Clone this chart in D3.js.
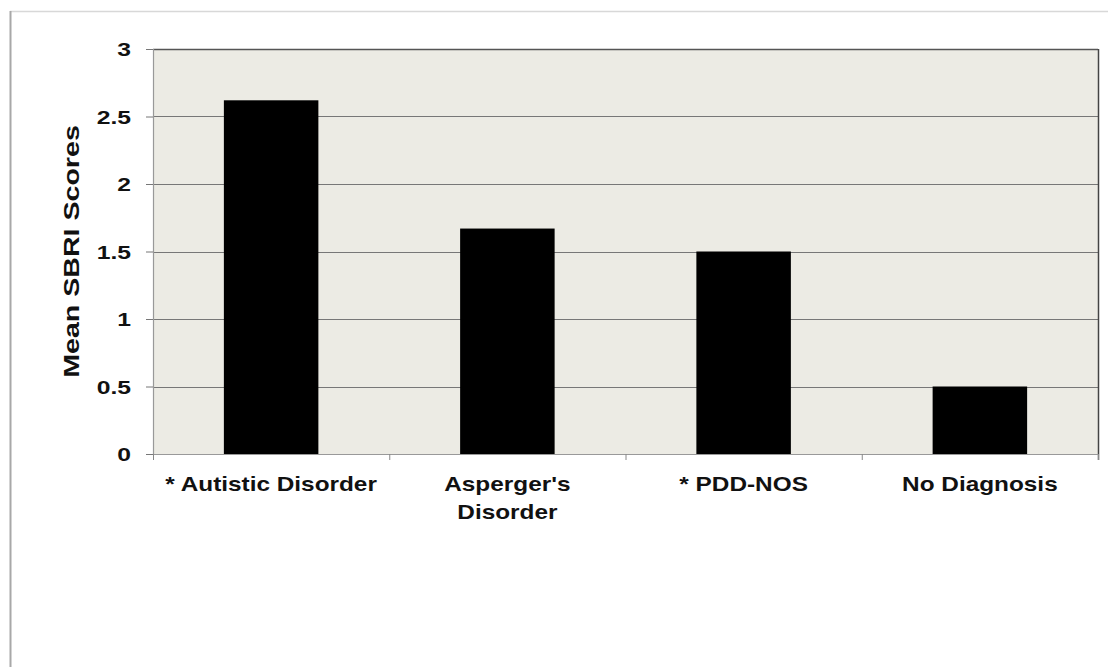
<!DOCTYPE html>
<html><head><meta charset="utf-8">
<script src="https://cdn.jsdelivr.net/npm/d3@7"></script>
<style>body{margin:0;background:#fff}svg{display:block}</style>
</head><body>
<script>
const categories = ["* Autistic Disorder", "Asperger's\nDisorder", "* PDD-NOS", "No Diagnosis"];
const values = [2.62, 1.67, 1.5, 0.5];
const yTicks = [0, 0.5, 1, 1.5, 2, 2.5, 3];
const yLabel = "Mean SBRI Scores";

const W = 1108, H = 667;
const m = {left: 153, right: 10, top: 49, bottom: 213};
const svg = d3.select("body").append("svg").attr("width", W).attr("height", H);

// outer frame
svg.append("line").attr("x1", 10).attr("x2", W).attr("y1", 11.5).attr("y2", 11.5).attr("stroke", "#d8d8d8").attr("stroke-width", 1.5);
svg.append("line").attr("x1", 10.5).attr("x2", 10.5).attr("y1", 11).attr("y2", H).attr("stroke", "#a8a8a8").attr("stroke-width", 2);

const x = d3.scaleBand().domain(categories).range([m.left, W - m.right]).paddingInner(0.6).paddingOuter(0.3);
const xb = d3.scaleBand().domain(categories).range([m.left, W - m.right]);
const y = d3.scaleLinear().domain([0, 3]).range([H - m.bottom, m.top]);

const font = "Liberation Sans, Arial, sans-serif";
svg.append("rect").attr("x", m.left).attr("y", m.top).attr("width", W - m.right - m.left).attr("height", H - m.bottom - m.top).attr("fill", "#ecebe4");

// gridlines
svg.append("g").selectAll("line").data(yTicks.filter(d => d > 0)).join("line")
  .attr("x1", m.left).attr("x2", W - m.right)
  .attr("y1", d => Math.round(y(d)) + 0.5).attr("y2", d => Math.round(y(d)) + 0.5)
  .attr("stroke", d => d === 3 ? "#555" : "#777").attr("stroke-width", d => d === 3 ? 1.6 : 1.2);

// right border
svg.append("line").attr("x1", W - m.right + 0.5).attr("x2", W - m.right + 0.5).attr("y1", m.top).attr("y2", H - m.bottom + 6).attr("stroke", "#444").attr("stroke-width", 1.5);

// bars
svg.append("g").selectAll("rect").data(values).join("rect")
  .attr("x", (d, i) => x(categories[i])).attr("width", x.bandwidth())
  .attr("y", d => y(d)).attr("height", d => y(0) - y(d)).attr("fill", "#000");

// y axis
const ya = svg.append("g").attr("transform", `translate(${m.left},0)`)
  .call(d3.axisLeft(y).tickValues(yTicks).tickFormat(d3.format("")).tickSize(7).tickPadding(14));
ya.select(".domain").attr("stroke", "#999").attr("stroke-width", 1.2);
ya.selectAll(".tick line").attr("stroke", "#777");
ya.selectAll(".tick text").attr("x", 0).attr("dy", "0.36em")
  .attr("transform", "translate(-22,0) scale(1.3,1)")
  .attr("font-family", font).attr("font-weight", "bold").attr("font-size", 19).attr("fill", "#111");

// x axis
const xa = svg.append("g").attr("transform", `translate(0,${H - m.bottom})`);
xa.append("line").attr("x1", m.left).attr("x2", W - m.right).attr("y1", 0.5).attr("y2", 0.5).attr("stroke", "#999").attr("stroke-width", 1.2);
const bounds = categories.map(c => xb(c)).concat([W - m.right]);
xa.selectAll(".bt").data(bounds).join("line").attr("class", "bt")
  .attr("x1", d => d + 0.5).attr("x2", d => d + 0.5).attr("y1", 0).attr("y2", 6).attr("stroke", "#888");
const lbl = xa.selectAll(".lbl").data(categories).join("text").attr("class", "lbl")
  .attr("transform", d => `translate(${xb(d) + xb.bandwidth() / 2},37) scale(1.16,1)`)
  .attr("text-anchor", "middle").attr("font-family", font).attr("font-weight", "bold").attr("font-size", 21).attr("fill", "#111");
lbl.each(function(d) {
  const parts = d.split("\n");
  d3.select(this).selectAll("tspan").data(parts).join("tspan")
    .attr("x", 0).attr("dy", (p, i) => i === 0 ? 0 : 28).text(p => p);
});

// y label
svg.append("text").attr("transform", `translate(79,${(y(0) + y(3)) / 2}) rotate(-90) scale(1.3,1)`)
  .attr("text-anchor", "middle").attr("font-family", font).attr("font-weight", "bold").attr("font-size", 22).attr("fill", "#111")
  .text(yLabel);
</script>
</body></html>
